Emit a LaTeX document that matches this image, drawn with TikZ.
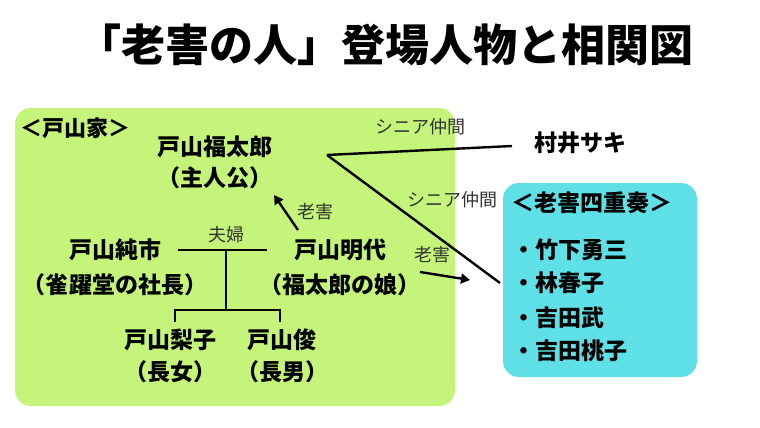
\documentclass[tikz,border=0pt]{standalone}
\usepackage{fontspec}
\setmainfont{Noto Sans CJK JP}
\usetikzlibrary{arrows.meta}
\definecolor{grn}{HTML}{C4F57A}
\definecolor{cyn}{HTML}{5EE0E6}
\begin{document}
\begin{tikzpicture}[x=1pt,y=-1pt,
  nm/.style={font=\fontsize{23}{26}\selectfont\bfseries, inner sep=0pt},
  lb/.style={font=\fontsize{18}{20}\selectfont, text=black!80, inner sep=0pt},
  ln/.style={line width=2.4pt},
  arr/.style={line width=2.4pt,-{Triangle[length=9pt,width=10pt]}}]
\useasboundingbox (0,0) rectangle (760,428);
\fill[white] (0,0) rectangle (760,428);
\node[font=\fontsize{44}{50}\selectfont\bfseries] (title) at (385,45) {「老害の人」登場人物と相関図};
\fill[grn, rounded corners=16pt] (15,108) rectangle (455,406);
\fill[cyn, rounded corners=16pt] (503,183) rectangle (697,377);
\node[nm, font=\fontsize{22}{26}\selectfont\bfseries] (fam) at (75,128) {＜戸山家＞};
\node[nm] (fuku) at (215,147) {戸山福太郎};
\node[nm] (fuku2) at (215,178) {（主人公）};
\node[nm] (saki) at (580,143) {村井サキ};
\node[nm] (quart) at (592,203) {＜老害四重奏＞};
\node[nm, anchor=west] (q1) at (512,250) {・竹下勇三};
\node[nm, anchor=west] (q2) at (512,283) {・林春子};
\node[nm, anchor=west] (q3) at (512,318) {・吉田武};
\node[nm, anchor=west] (q4) at (512,351) {・吉田桃子};
\node[nm] (jun) at (115,250) {戸山純市};
\node[nm] (jun2) at (115,285) {（雀躍堂の社長）};
\node[nm] (aki) at (340,250) {戸山明代};
\node[nm] (aki2) at (340,285) {（福太郎の娘）};
\node[nm] (riko) at (170,340) {戸山梨子};
\node[nm] (riko2) at (170,372) {（長女）};
\node[nm] (shun) at (282,340) {戸山俊};
\node[nm] (shun2) at (282,372) {（長男）};
\coordinate (hub) at (327,155);
\coordinate (sakiL) at (512,146);
\coordinate (qL) at (500,283);
\draw[ln] (hub) -- (sakiL);
\draw[ln] (hub) -- (qL);
\node[lb] (s1) at (420,127) {シニア仲間};
\node[lb] (s2) at (452,200) {シニア仲間};
\coordinate (m1) at (178,250); \coordinate (m2) at (267,250);
\draw[ln] (m1) -- (m2);
\node[lb] (fufu) at (226,235) {夫婦};
\coordinate (mid) at (226,250); \coordinate (mb) at (226,310);
\draw[ln] (mid) -- (mb);
\coordinate (c1) at (175,322); \coordinate (c2) at (280,322);
\draw[ln] (c1) |- (mb) -| (c2);
\coordinate (a1) at (298,230); \coordinate (a2) at (274,195);
\draw[arr] (a1) -- (a2);
\node[lb] (r1) at (315,212) {老害};
\coordinate (b1) at (420,272); \coordinate (b2) at (470,280);
\draw[arr] (b1) -- (b2);
\node[lb] (r2) at (432,255) {老害};
\end{tikzpicture}
\end{document}
